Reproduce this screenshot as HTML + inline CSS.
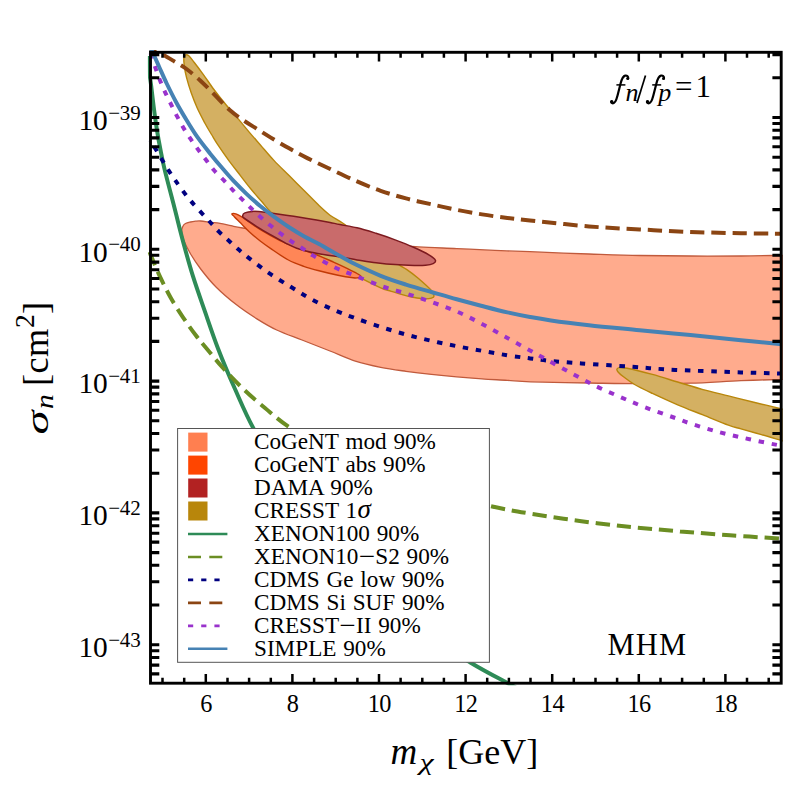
<!DOCTYPE html>
<html><head><meta charset="utf-8"><title>sigma_n vs m_chi</title>
<style>html,body{margin:0;padding:0;background:#fff;}body{width:789px;height:789px;overflow:hidden;}svg{display:block;}text{font-family:"Liberation Serif",serif;fill:#000;}.it{font-style:italic;}</style></head><body>
<svg width="789" height="789" viewBox="0 0 789 789">
<rect x="0" y="0" width="789" height="789" fill="#fff"/>
<defs><clipPath id="cp"><rect x="147.9" y="49.9" width="634.8" height="635.3"/></clipPath></defs>
<g clip-path="url(#cp)" fill="none" stroke-linejoin="round">
<path d="M783.0,379.4 C776.0,379.6 756.4,380.1 741.0,380.7 C725.6,381.3 707.3,382.7 690.4,383.2 C673.5,383.7 656.6,383.7 639.7,383.7 C622.8,383.7 607.2,383.3 589.0,383.0 C570.8,382.7 544.3,382.2 530.7,381.8 C517.1,381.4 515.5,380.8 507.4,380.3 C499.3,379.8 490.4,379.5 482.0,378.9 C473.6,378.3 465.1,377.6 456.7,376.8 C448.3,376.1 439.8,375.3 431.4,374.4 C422.9,373.5 414.4,372.5 406.0,371.3 C397.6,370.1 389.1,369.0 380.7,367.3 C372.2,365.6 363.8,363.8 355.3,361.1 C346.9,358.4 338.9,354.5 330.0,351.0 C321.1,347.5 310.9,343.5 302.0,340.0 C293.1,336.5 284.3,333.6 276.7,330.0 C269.1,326.4 263.2,322.8 256.5,318.6 C249.8,314.4 242.9,309.9 236.2,304.6 C229.4,299.3 221.9,292.9 216.0,287.0 C210.1,281.1 204.9,274.5 200.7,269.0 C196.5,263.5 193.4,258.8 190.6,254.0 C187.8,249.2 185.1,243.8 183.6,240.0 C182.1,236.2 181.8,233.3 181.7,231.1 C181.6,228.8 182.2,227.8 182.8,226.5 C183.4,225.2 184.2,224.2 185.5,223.5 C186.8,222.8 188.9,222.4 190.6,222.0 C192.3,221.6 193.9,221.4 195.6,221.2 C197.3,221.0 198.2,220.8 200.7,221.0 C203.2,221.2 207.6,221.9 210.8,222.3 C214.0,222.7 216.6,222.8 220.0,223.4 C223.4,224.0 227.2,224.9 231.0,225.7 C234.8,226.5 234.6,226.8 242.8,228.0 C251.0,229.2 265.5,231.2 280.0,233.0 C294.5,234.8 313.3,237.2 330.0,239.0 C346.7,240.8 365.2,242.7 380.0,244.0 C394.8,245.3 405.9,246.1 418.7,246.9 C431.5,247.7 444.0,248.0 456.7,248.6 C469.4,249.2 482.6,249.9 494.8,250.4 C507.0,250.9 514.3,251.1 530.0,251.7 C545.7,252.3 570.7,253.4 589.0,254.0 C607.3,254.6 622.8,255.2 639.7,255.5 C656.6,255.8 673.5,255.9 690.4,256.0 C707.3,256.1 725.6,256.1 741.0,256.0 C756.4,255.9 776.0,255.4 783.0,255.3 L783,379.4Z" fill="#ffab8d" stroke="#c05a3c" stroke-width="1.3"/>
<path d="M185.7,54.9 C184.9,55.2 184.2,55.9 183.9,57.6 C183.7,59.3 183.8,61.9 184.2,65.2 C184.6,68.5 185.3,72.8 186.5,77.4 C187.7,82.0 189.3,87.5 191.1,92.6 C192.9,97.7 194.8,102.7 197.1,107.8 C199.4,112.9 202.4,118.5 204.8,123.0 C207.2,127.5 209.1,130.6 211.5,134.5 C213.9,138.4 216.0,142.1 219.1,146.7 C222.2,151.3 226.2,157.1 229.8,161.9 C233.4,166.7 236.9,171.0 240.4,175.6 C243.9,180.2 247.6,185.0 251.1,189.3 C254.6,193.6 258.4,197.7 261.7,201.5 C265.0,205.3 265.2,206.3 270.8,212.1 C276.4,217.8 287.1,228.8 295.0,236.0 C302.9,243.2 310.5,249.8 318.0,255.0 C325.5,260.2 332.8,263.1 340.0,267.0 C347.2,270.9 354.7,274.8 361.5,278.3 C368.3,281.8 375.7,285.6 380.7,287.8 C385.7,290.0 386.4,289.8 391.3,291.3 C396.2,292.8 404.9,295.6 410.3,296.8 C415.7,298.1 420.1,298.6 423.6,298.8 C427.1,299.0 429.8,298.7 431.5,298.2 C433.2,297.7 434.1,297.3 434.0,296.0 C433.9,294.7 433.9,293.3 431.2,290.3 C428.5,287.3 422.0,281.5 417.9,278.0 C413.8,274.5 409.7,271.6 406.5,269.4 C403.3,267.2 403.3,267.8 398.9,264.6 C394.5,261.4 386.5,254.8 380.0,250.0 C373.5,245.2 366.1,240.4 360.0,236.0 C353.9,231.6 348.7,227.3 343.7,223.8 C338.7,220.3 334.0,218.2 330.0,215.2 C326.0,212.2 323.8,210.1 319.5,206.0 C315.2,201.9 309.4,195.9 304.3,190.8 C299.2,185.7 294.2,180.7 289.1,175.6 C284.0,170.5 278.6,165.5 273.9,160.4 C269.1,155.3 264.7,149.9 260.6,145.2 C256.5,140.5 253.0,136.6 249.2,132.1 C245.4,127.6 241.7,123.0 237.8,118.4 C233.9,113.9 230.0,109.6 226.0,104.8 C222.0,100.0 217.7,94.6 213.9,89.5 C210.1,84.4 206.5,78.8 203.2,74.3 C199.9,69.8 196.5,65.3 194.1,62.2 C191.7,59.1 190.2,57.0 188.8,55.8 C187.4,54.6 186.5,54.6 185.7,54.9Z" fill="#d4b062" stroke="#b8860b" stroke-width="1.4"/>
<path d="M800.0,413.2 C797.2,412.5 790.7,411.0 783.0,409.2 C775.3,407.4 762.9,404.4 753.8,402.2 C744.7,400.0 736.9,398.0 728.4,395.9 C719.9,393.8 711.5,391.9 703.0,389.6 C694.5,387.3 686.1,384.5 677.7,382.0 C669.3,379.5 660.9,376.7 652.4,374.4 C643.9,372.1 632.5,369.3 627.0,368.2 C621.5,367.1 621.2,367.4 619.5,367.6 C617.8,367.8 617.1,368.4 616.9,369.2 C616.7,370.0 617.2,370.9 618.3,372.2 C619.4,373.5 620.8,374.8 623.5,376.8 C626.2,378.9 629.8,381.7 634.6,384.5 C639.4,387.3 645.2,390.0 652.4,393.4 C659.6,396.8 669.3,401.2 677.7,404.8 C686.1,408.4 694.5,411.5 703.0,414.9 C711.5,418.3 722.1,422.8 728.4,425.1 C734.7,427.4 735.5,427.3 741.0,428.9 C746.5,430.5 754.4,432.6 761.4,434.6 C768.4,436.6 776.6,439.1 783.0,441.0 C789.4,442.9 797.2,445.2 800.0,446.0Z" fill="#d4b062" stroke="#b8860b" stroke-width="1.4"/>
<path d="M232.0,213.8 C232.4,213.4 234.8,213.5 236.6,214.1 C238.4,214.7 238.8,214.9 242.7,217.5 C246.6,220.1 253.8,225.7 260.0,229.5 C266.2,233.3 273.3,237.3 280.0,240.5 C286.7,243.7 293.5,246.2 300.0,248.8 C306.5,251.4 313.3,253.6 319.0,255.8 C324.7,258.1 329.2,260.2 334.0,262.3 C338.8,264.4 343.7,266.7 347.5,268.6 C351.3,270.5 354.7,272.2 357.0,273.5 C359.3,274.8 361.0,275.9 361.2,276.6 C361.4,277.3 359.3,277.5 358.0,277.7 C356.7,277.9 356.5,278.2 353.2,277.8 C349.9,277.4 343.7,276.5 338.0,275.3 C332.3,274.1 324.7,272.3 319.0,270.8 C313.3,269.3 308.8,268.1 303.7,266.3 C298.6,264.5 293.9,262.9 288.4,260.0 C282.9,257.1 275.5,251.8 270.8,248.6 C266.1,245.4 263.8,243.8 260.2,241.0 C256.6,238.2 252.8,234.9 249.5,231.9 C246.2,228.9 242.9,225.3 240.4,222.8 C237.9,220.3 235.7,218.2 234.3,216.7 C232.9,215.2 231.6,214.2 232.0,213.8Z" fill="#ff8657" stroke="#c23a06" stroke-width="1.4"/>
<path d="M242.7,215.6 C242.8,214.7 243.3,213.6 245.0,212.9 C246.7,212.2 249.9,211.6 252.6,211.4 C255.3,211.2 258.0,211.6 261.0,211.8 C264.0,212.1 266.6,212.3 270.8,212.9 C275.0,213.5 280.9,214.4 286.0,215.2 C291.1,216.0 296.2,216.7 301.3,217.5 C306.4,218.3 311.7,219.1 316.5,219.9 C321.3,220.7 326.1,221.6 330.0,222.4 C333.9,223.2 335.5,223.7 340.0,224.6 C344.5,225.5 351.0,226.4 357.0,227.8 C363.0,229.2 369.6,231.3 376.0,233.3 C382.4,235.3 388.8,237.5 395.1,239.9 C401.5,242.3 408.4,245.0 414.1,247.5 C419.8,250.0 425.8,253.0 429.3,255.1 C432.9,257.2 434.8,258.9 435.4,260.3 C436.0,261.7 434.8,262.8 433.1,263.6 C431.5,264.4 428.7,264.9 425.5,265.2 C422.3,265.5 419.2,265.5 414.1,265.4 C409.0,265.3 401.5,265.1 395.1,264.6 C388.8,264.2 382.4,263.5 376.0,262.7 C369.6,261.9 363.0,260.8 357.0,259.9 C351.0,258.9 345.1,257.8 340.0,257.0 C334.9,256.2 331.3,255.8 326.5,255.0 C321.7,254.2 316.3,253.3 311.3,252.2 C306.3,251.1 300.9,249.7 296.7,248.2 C292.5,246.7 290.3,245.5 286.0,243.3 C281.7,241.1 275.9,237.8 270.8,234.9 C265.7,232.0 260.0,228.6 255.6,225.8 C251.2,223.0 246.3,219.9 244.2,218.2 C242.0,216.5 242.6,216.5 242.7,215.6Z" fill="#c96b6b" stroke="#7d1a1f" stroke-width="1.5"/>
<path d="M148.7,56.0 C148.8,57.7 148.8,62.7 149.0,66.0 C149.2,69.3 149.4,72.7 149.8,76.0 C150.2,79.3 150.5,80.7 151.2,86.0 C151.9,91.3 152.9,100.6 153.8,107.8 C154.7,115.0 155.7,122.0 156.8,129.1 C157.9,136.2 159.3,143.8 160.6,150.4 C161.9,157.0 162.1,158.9 164.4,168.6 C166.7,178.2 171.5,196.2 174.6,208.3 C177.7,220.4 179.9,229.9 183.0,241.3 C186.1,252.7 189.5,265.3 193.1,276.7 C196.7,288.1 200.1,297.6 204.3,309.7 C208.5,321.8 213.1,335.8 218.2,349.0 C223.3,362.2 229.1,375.8 235.0,389.0 C240.9,402.2 245.2,413.0 253.5,428.5 C261.8,444.0 273.1,463.8 285.0,482.0 C296.9,500.2 310.8,520.3 325.0,538.0 C339.2,555.7 354.2,572.7 370.0,588.0 C385.8,603.3 403.2,617.5 420.0,630.0 C436.8,642.5 456.1,653.9 470.7,662.7 C485.3,671.5 499.9,678.9 507.5,683.0 C515.0,687.1 514.6,686.8 516.0,687.5" stroke="#2e8b57" stroke-width="4.0"/>
<path d="M149.5,252.0 C149.8,252.8 149.6,252.4 151.3,256.5 C153.1,260.6 156.8,269.9 160.0,276.7 C163.2,283.4 166.5,290.2 170.3,297.0 C174.1,303.8 178.8,311.0 183.0,317.3 C187.2,323.6 191.6,329.7 195.6,335.0 C199.6,340.3 202.4,343.5 207.0,349.0 C211.6,354.5 216.9,361.3 223.0,368.0 C229.1,374.7 236.3,382.3 243.3,389.0 C250.3,395.7 257.4,401.7 265.0,408.0 C272.6,414.3 278.2,419.7 289.0,427.0 C299.8,434.3 314.8,444.2 330.0,452.0 C345.2,459.8 363.3,467.5 380.0,474.0 C396.7,480.5 411.6,485.7 430.0,491.0 C448.4,496.3 473.3,502.2 490.1,506.0 C506.9,509.8 515.5,511.1 530.7,513.6 C545.9,516.1 564.5,519.0 581.4,521.2 C598.3,523.5 615.7,525.4 632.1,527.1 C648.5,528.8 663.7,530.0 680.0,531.4 C696.3,532.8 713.1,534.1 730.0,535.3 C746.9,536.5 772.9,538.1 781.5,538.7" stroke="#6b8e23" stroke-width="4.0" stroke-dasharray="14.3 6.9"/>
<path d="M149.5,140.5 C150.3,141.6 152.6,144.3 154.6,147.3 C156.6,150.3 159.2,155.1 161.4,158.7 C163.6,162.2 165.2,165.0 167.5,168.6 C169.8,172.2 171.5,175.1 175.3,180.4 C179.2,185.8 184.8,193.8 190.6,200.7 C196.4,207.6 205.2,216.8 210.0,222.0 C214.8,227.2 216.0,228.8 219.1,231.9 C222.2,235.0 225.2,237.5 228.3,240.3 C231.4,243.1 234.2,245.8 237.4,248.6 C240.6,251.4 242.2,252.8 247.4,256.9 C252.6,260.9 261.3,267.8 268.7,272.9 C276.1,278.0 284.2,282.9 291.5,287.3 C298.8,291.8 304.9,295.8 312.2,299.6 C319.4,303.5 327.8,307.3 335.0,310.4 C342.2,313.5 347.7,315.4 355.3,318.2 C362.9,320.9 372.2,324.2 380.7,326.9 C389.1,329.6 397.6,332.2 406.0,334.5 C414.4,336.8 422.9,338.9 431.4,340.8 C439.8,342.8 448.3,344.5 456.7,346.2 C465.1,347.9 473.6,349.3 482.0,350.8 C490.4,352.3 499.4,354.0 507.4,355.3 C515.4,356.6 522.7,357.4 530.0,358.4 C537.3,359.3 542.4,360.2 551.0,361.0 C559.6,361.8 567.9,362.4 581.4,363.4 C594.9,364.4 616.5,365.7 632.1,366.8 C647.7,367.9 657.1,369.0 675.2,369.9 C693.4,370.8 723.3,371.8 741.0,372.4 C758.7,373.0 774.8,373.3 781.5,373.5" stroke="#000080" stroke-width="4.0" stroke-dasharray="5.45 7.7" stroke-dashoffset="5.3"/>
<path d="M150.0,49.5 C150.8,49.8 152.3,50.5 154.6,51.5 C156.9,52.5 160.4,53.6 163.7,55.3 C167.0,56.9 170.5,59.1 174.3,61.4 C178.1,63.7 182.2,65.8 186.5,69.0 C190.8,72.2 195.6,76.2 200.2,80.4 C204.8,84.6 209.1,89.2 213.9,94.1 C218.7,98.9 224.5,105.4 229.1,109.5 C233.7,113.6 236.7,115.7 241.3,118.9 C245.9,122.1 251.6,125.5 256.5,128.6 C261.4,131.7 265.4,134.3 270.8,137.6 C276.2,140.9 283.0,144.9 289.1,148.3 C295.2,151.7 300.7,154.8 307.3,158.1 C313.9,161.4 320.6,164.4 328.6,168.2 C336.6,172.0 346.6,176.9 355.3,180.7 C364.0,184.5 372.2,187.9 380.7,190.8 C389.1,193.8 397.6,196.2 406.0,198.4 C414.4,200.7 422.9,202.4 431.4,204.3 C439.8,206.2 448.3,208.1 456.7,209.8 C465.1,211.5 473.6,213.0 482.0,214.4 C490.4,215.8 499.4,217.0 507.4,218.0 C515.4,219.0 516.4,219.1 530.0,220.5 C543.6,221.9 570.7,224.9 589.0,226.4 C607.3,227.9 622.8,228.5 639.7,229.4 C656.6,230.3 673.5,231.4 690.4,232.0 C707.3,232.6 725.8,232.9 741.0,233.2 C756.2,233.5 774.8,233.6 781.6,233.7" stroke="#8b4513" stroke-width="4.0" stroke-dasharray="14.3 6.9" stroke-dashoffset="7.6"/>
<path d="M149.8,50.0 C150.1,51.0 150.4,52.8 151.5,56.1 C152.6,59.4 154.6,65.5 156.1,69.8 C157.6,74.1 158.9,77.9 160.6,81.9 C162.2,86.0 164.2,90.3 166.0,94.1 C167.8,97.9 169.4,101.0 171.3,104.8 C173.2,108.6 175.2,112.9 177.4,116.9 C179.6,121.0 181.9,125.3 184.2,129.1 C186.5,132.9 188.7,136.1 191.1,139.7 C193.5,143.2 196.2,147.0 198.7,150.4 C201.2,153.8 203.8,157.0 206.3,160.3 C208.8,163.6 210.9,166.7 213.8,170.0 C216.7,173.3 220.5,176.8 223.7,180.2 C226.9,183.5 229.8,186.9 232.8,190.1 C235.8,193.3 238.9,196.2 241.9,199.2 C244.9,202.2 248.1,205.4 251.1,208.3 C254.1,211.2 256.9,213.8 260.2,216.7 C263.5,219.6 267.2,222.9 270.8,225.8 C274.4,228.7 277.9,231.5 281.5,234.2 C285.1,236.9 288.6,239.4 292.1,241.8 C295.7,244.2 299.4,246.3 302.8,248.6 C306.2,250.9 307.4,252.2 312.8,255.4 C318.2,258.6 327.9,264.1 335.0,267.5 C342.1,270.9 347.7,272.7 355.3,275.8 C362.9,278.9 372.2,282.9 380.7,285.9 C389.1,288.8 397.6,290.8 406.0,293.5 C414.4,296.2 422.9,299.0 431.4,302.0 C439.8,305.0 448.3,307.9 456.7,311.5 C465.1,315.1 473.6,319.5 482.0,323.9 C490.4,328.3 499.4,333.6 507.4,338.0 C515.4,342.4 524.0,347.1 530.0,350.4 C536.0,353.7 536.9,354.2 543.4,357.8 C549.9,361.4 560.2,367.1 568.7,371.7 C577.2,376.3 585.7,381.0 594.1,385.2 C602.5,389.4 611.0,392.9 619.4,396.6 C627.8,400.3 635.5,403.6 644.8,407.2 C654.1,410.8 667.6,415.3 675.2,418.0 C682.8,420.7 683.6,421.3 690.4,423.5 C697.1,425.7 707.3,428.9 715.7,431.2 C724.1,433.5 732.5,435.5 741.0,437.4 C749.5,439.3 759.6,441.4 766.4,442.8 C773.1,444.2 779.0,445.3 781.5,445.8" stroke="#9932cc" stroke-width="4.0" stroke-dasharray="5.45 7.7" stroke-dashoffset="-3.6"/>
<path d="M150.6,48.0 C151.0,48.8 151.6,49.9 153.0,53.0 C154.4,56.1 156.8,61.6 159.1,66.7 C161.4,71.8 163.9,77.7 166.7,83.5 C169.5,89.3 172.6,95.6 175.9,101.7 C179.2,107.8 183.0,114.2 186.5,120.0 C190.0,125.8 193.2,131.1 197.1,136.7 C201.0,142.3 205.8,148.2 210.0,153.4 C214.2,158.6 218.1,163.3 222.2,168.0 C226.2,172.7 230.2,177.4 234.3,181.7 C238.4,186.0 242.2,189.8 246.5,193.9 C250.8,198.0 255.6,202.2 260.2,206.0 C264.8,209.8 269.1,213.1 273.9,216.7 C278.7,220.2 284.0,224.0 289.1,227.3 C294.2,230.6 299.2,233.7 304.3,236.5 C309.4,239.3 313.6,241.1 319.5,244.3 C325.4,247.6 334.0,252.7 340.0,256.0 C346.0,259.3 348.5,261.0 355.3,264.3 C362.1,267.6 372.2,272.4 380.7,275.8 C389.1,279.2 397.6,281.9 406.0,284.6 C414.4,287.3 422.9,289.6 431.4,292.0 C439.8,294.4 448.3,296.9 456.7,299.2 C465.1,301.5 473.6,303.8 482.0,306.0 C490.4,308.2 499.4,310.6 507.4,312.4 C515.4,314.2 522.7,315.7 530.0,317.0 C537.3,318.3 541.2,319.0 551.0,320.4 C560.8,321.8 574.2,323.5 589.0,325.2 C603.8,326.9 622.8,328.6 639.7,330.3 C656.6,332.0 673.5,333.5 690.4,335.1 C707.3,336.8 725.8,338.7 741.0,340.2 C756.2,341.7 774.8,343.6 781.6,344.3" stroke="#4682b4" stroke-width="4.0"/>
</g>
<rect x="177.6" y="428.5" width="311.8" height="233.8" fill="#fff" stroke="#555" stroke-width="1"/>
<rect x="188.2" y="432.6" width="19.3" height="19.0" fill="#ff7f50"/>
<text x="254.0" y="449.3" font-size="23.2" word-spacing="1.0">CoGeNT mod 90%</text>
<rect x="188.2" y="455.6" width="19.3" height="19.0" fill="#ff4500"/>
<text x="254.0" y="472.3" font-size="23.2" word-spacing="1.0">CoGeNT abs 90%</text>
<rect x="188.2" y="478.5" width="19.3" height="19.0" fill="#b22222"/>
<text x="254.0" y="495.2" font-size="23.2" word-spacing="1.0">DAMA 90%</text>
<rect x="188.2" y="501.5" width="19.3" height="19.0" fill="#b8860b"/>
<text x="254.0" y="518.2" font-size="23.2" word-spacing="1.0">CRESST 1<tspan class="it" font-size="27" dx="0.5">σ</tspan></text>
<line x1="188.0" y1="534.0" x2="227.4" y2="534.0" stroke="#2e8b57" stroke-width="2.6"/>
<text x="254.0" y="541.2" font-size="23.2" word-spacing="1.0">XENON100 90%</text>
<line x1="188.0" y1="557.0" x2="227.4" y2="557.0" stroke="#6b8e23" stroke-width="2.6" stroke-dasharray="13 8.3"/>
<text x="254.0" y="564.2" font-size="23.2" word-spacing="1.0">XENON10<tspan font-size="29" dy="1.5" dx="0.3">−</tspan><tspan dy="-1.5" dx="0.3">S2 90%</tspan></text>
<line x1="188.0" y1="579.9" x2="227.4" y2="579.9" stroke="#000080" stroke-width="2.6" stroke-dasharray="5.2 8"/>
<text x="254.0" y="587.1" font-size="23.2" word-spacing="1.0">CDMS Ge low 90%</text>
<line x1="188.0" y1="602.9" x2="227.4" y2="602.9" stroke="#8b4513" stroke-width="2.6" stroke-dasharray="13 8.3"/>
<text x="254.0" y="610.1" font-size="23.2" word-spacing="1.0">CDMS Si SUF 90%</text>
<line x1="188.0" y1="625.9" x2="227.4" y2="625.9" stroke="#9932cc" stroke-width="2.6" stroke-dasharray="5.2 8"/>
<text x="254.0" y="633.1" font-size="23.2" word-spacing="1.0">CRESST<tspan font-size="29" dy="1.5" dx="0.3">−</tspan><tspan dy="-1.5" dx="0.3">II 90%</tspan></text>
<line x1="188.0" y1="648.8" x2="227.4" y2="648.8" stroke="#4682b4" stroke-width="2.6"/>
<text x="254.0" y="656.0" font-size="23.2" word-spacing="1.0">SIMPLE 90%</text>
<g stroke="#000" fill="none" stroke-linecap="butt">
<rect x="150.5" y="52.3" width="630.7" height="630.9" stroke-width="2.9"/>
<path d="M162.5,683.2 v-5.5 M162.5,52.3 v5.5 M184.2,683.2 v-5.5 M184.2,52.3 v5.5 M205.8,683.2 v-9.2 M205.8,52.3 v9.2 M227.5,683.2 v-5.5 M227.5,52.3 v5.5 M249.1,683.2 v-5.5 M249.1,52.3 v5.5 M270.8,683.2 v-5.5 M270.8,52.3 v5.5 M292.4,683.2 v-9.2 M292.4,52.3 v9.2 M314.1,683.2 v-5.5 M314.1,52.3 v5.5 M335.7,683.2 v-5.5 M335.7,52.3 v5.5 M357.4,683.2 v-5.5 M357.4,52.3 v5.5 M379.0,683.2 v-9.2 M379.0,52.3 v9.2 M400.6,683.2 v-5.5 M400.6,52.3 v5.5 M422.3,683.2 v-5.5 M422.3,52.3 v5.5 M443.9,683.2 v-5.5 M443.9,52.3 v5.5 M465.6,683.2 v-9.2 M465.6,52.3 v9.2 M487.2,683.2 v-5.5 M487.2,52.3 v5.5 M508.9,683.2 v-5.5 M508.9,52.3 v5.5 M530.5,683.2 v-5.5 M530.5,52.3 v5.5 M552.2,683.2 v-9.2 M552.2,52.3 v9.2 M573.8,683.2 v-5.5 M573.8,52.3 v5.5 M595.5,683.2 v-5.5 M595.5,52.3 v5.5 M617.1,683.2 v-5.5 M617.1,52.3 v5.5 M638.8,683.2 v-9.2 M638.8,52.3 v9.2 M660.5,683.2 v-5.5 M660.5,52.3 v5.5 M682.1,683.2 v-5.5 M682.1,52.3 v5.5 M703.8,683.2 v-5.5 M703.8,52.3 v5.5 M725.4,683.2 v-9.2 M725.4,52.3 v9.2 M747.0,683.2 v-5.5 M747.0,52.3 v5.5 M768.7,683.2 v-5.5 M768.7,52.3 v5.5 " stroke-width="2.5"/>
<path d="M150.5,673.9 h8.8 M781.2,673.9 h-8.8 M150.5,665.1 h8.8 M781.2,665.1 h-8.8 M150.5,657.5 h8.8 M781.2,657.5 h-8.8 M150.5,650.7 h8.8 M781.2,650.7 h-8.8 M150.5,644.7 h8.8 M781.2,644.7 h-8.8 M150.5,605.0 h8.8 M781.2,605.0 h-8.8 M150.5,581.8 h8.8 M781.2,581.8 h-8.8 M150.5,565.3 h8.8 M781.2,565.3 h-8.8 M150.5,552.6 h8.8 M781.2,552.6 h-8.8 M150.5,542.1 h8.8 M781.2,542.1 h-8.8 M150.5,533.3 h8.8 M781.2,533.3 h-8.8 M150.5,525.7 h8.8 M781.2,525.7 h-8.8 M150.5,518.9 h8.8 M781.2,518.9 h-8.8 M150.5,512.9 h8.8 M781.2,512.9 h-8.8 M150.5,473.2 h8.8 M781.2,473.2 h-8.8 M150.5,450.0 h8.8 M781.2,450.0 h-8.8 M150.5,433.5 h8.8 M781.2,433.5 h-8.8 M150.5,420.8 h8.8 M781.2,420.8 h-8.8 M150.5,410.3 h8.8 M781.2,410.3 h-8.8 M150.5,401.5 h8.8 M781.2,401.5 h-8.8 M150.5,393.9 h8.8 M781.2,393.9 h-8.8 M150.5,387.1 h8.8 M781.2,387.1 h-8.8 M150.5,381.1 h8.8 M781.2,381.1 h-8.8 M150.5,341.4 h8.8 M781.2,341.4 h-8.8 M150.5,318.2 h8.8 M781.2,318.2 h-8.8 M150.5,301.7 h8.8 M781.2,301.7 h-8.8 M150.5,289.0 h8.8 M781.2,289.0 h-8.8 M150.5,278.5 h8.8 M781.2,278.5 h-8.8 M150.5,269.7 h8.8 M781.2,269.7 h-8.8 M150.5,262.1 h8.8 M781.2,262.1 h-8.8 M150.5,255.3 h8.8 M781.2,255.3 h-8.8 M150.5,249.3 h8.8 M781.2,249.3 h-8.8 M150.5,209.6 h8.8 M781.2,209.6 h-8.8 M150.5,186.4 h8.8 M781.2,186.4 h-8.8 M150.5,169.9 h8.8 M781.2,169.9 h-8.8 M150.5,157.2 h8.8 M781.2,157.2 h-8.8 M150.5,146.7 h8.8 M781.2,146.7 h-8.8 M150.5,137.9 h8.8 M781.2,137.9 h-8.8 M150.5,130.3 h8.8 M781.2,130.3 h-8.8 M150.5,123.5 h8.8 M781.2,123.5 h-8.8 M150.5,117.5 h8.8 M781.2,117.5 h-8.8 M150.5,77.8 h8.8 M781.2,77.8 h-8.8 M150.5,54.6 h8.8 M781.2,54.6 h-8.8 " stroke-width="3.1"/>
</g>
<text x="206.0" y="711.7" font-size="24.3" text-anchor="middle" letter-spacing="-0.6">6</text>
<text x="292.6" y="711.7" font-size="24.3" text-anchor="middle" letter-spacing="-0.6">8</text>
<text x="379.2" y="711.7" font-size="24.3" text-anchor="middle" letter-spacing="-0.6">10</text>
<text x="465.8" y="711.7" font-size="24.3" text-anchor="middle" letter-spacing="-0.6">12</text>
<text x="552.4" y="711.7" font-size="24.3" text-anchor="middle" letter-spacing="-0.6">14</text>
<text x="639.0" y="711.7" font-size="24.3" text-anchor="middle" letter-spacing="-0.6">16</text>
<text x="725.6" y="711.7" font-size="24.3" text-anchor="middle" letter-spacing="-0.6">18</text>
<text x="78.6" y="129.8" font-size="29.4" letter-spacing="-0.4">10<tspan font-size="21.0" dx="1.0" dy="-10.2" letter-spacing="-0.2">−39</tspan></text>
<text x="78.6" y="261.6" font-size="29.4" letter-spacing="-0.4">10<tspan font-size="21.0" dx="1.0" dy="-10.2" letter-spacing="-0.2">−40</tspan></text>
<text x="78.6" y="393.4" font-size="29.4" letter-spacing="-0.4">10<tspan font-size="21.0" dx="1.0" dy="-10.2" letter-spacing="-0.2">−41</tspan></text>
<text x="78.6" y="525.2" font-size="29.4" letter-spacing="-0.4">10<tspan font-size="21.0" dx="1.0" dy="-10.2" letter-spacing="-0.2">−42</tspan></text>
<text x="78.6" y="657.0" font-size="29.4" letter-spacing="-0.4">10<tspan font-size="21.0" dx="1.0" dy="-10.2" letter-spacing="-0.2">−43</tspan></text>
<text y="763.7" font-size="36"><tspan class="it" x="390.4" font-size="37">m</tspan><tspan x="446.2" y="763.7">[GeV]</tspan></text>
<text class="it" font-size="23.5" transform="translate(419.6,769.7) scale(1.36,1)">χ</text>
<g transform="translate(47.8,433.7) rotate(-90)">
<text class="it" font-size="32" transform="translate(-0.8,0) scale(1.52,1)">σ</text>
<text class="it" font-size="26" transform="translate(24.6,5.6) scale(1.14,1)">n</text>
<text font-size="36.3" x="47.8" y="0" letter-spacing="0.3">[cm</text>
<text font-size="27.5" x="105.6" y="-14.2">2</text>
<text font-size="36.3" x="119.6" y="0">]</text>
</g>
<g fill="none" stroke="#000" stroke-linecap="round" transform="translate(0,0)"><path d="M628.2,78.4 C628.5,76.3 626.8,75.2 625.2,75.6 C622.6,76.2 621.6,79.5 620.6,83.5 L617.4,96 C616.5,99.6 615.6,103.3 612.9,103.4 C611.4,103.4 610.8,102.3 611.3,101.3" stroke-width="2.2"/><path d="M616.4,84.9 H625.4" stroke-width="1.5" stroke-linecap="butt"/><circle cx="627.7" cy="78.4" r="1.5" fill="#000" stroke="none"/><circle cx="611.9" cy="101.4" r="1.5" fill="#000" stroke="none"/></g>
<text class="it" font-size="26" x="625.5" y="101.2">n</text>
<path d="M637.0,103.0 L645.5,75.6" stroke="#000" stroke-width="1.7" fill="none"/>
<g fill="none" stroke="#000" stroke-linecap="round" transform="translate(35.8,0)"><path d="M628.2,78.4 C628.5,76.3 626.8,75.2 625.2,75.6 C622.6,76.2 621.6,79.5 620.6,83.5 L617.4,96 C616.5,99.6 615.6,103.3 612.9,103.4 C611.4,103.4 610.8,102.3 611.3,101.3" stroke-width="2.2"/><path d="M616.4,84.9 H625.4" stroke-width="1.5" stroke-linecap="butt"/><circle cx="627.7" cy="78.4" r="1.5" fill="#000" stroke="none"/><circle cx="611.9" cy="101.4" r="1.5" fill="#000" stroke="none"/></g>
<text class="it" font-size="26" x="658.3" y="101.2">p</text>
<text font-size="31" x="674.9" y="97">=</text>
<text font-size="31" x="695.6" y="97">1</text>
<text x="607.5" y="654.5" font-size="30.5" letter-spacing="1.2">MHM</text>
</svg></body></html>
